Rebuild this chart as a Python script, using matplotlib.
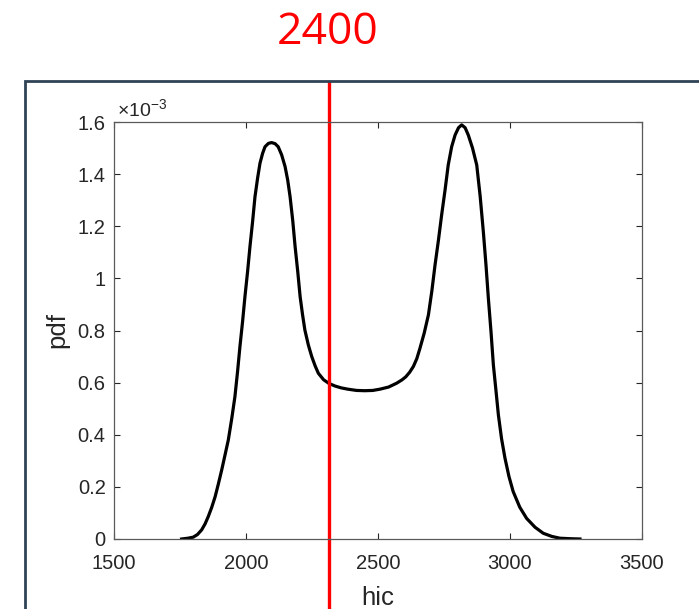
import matplotlib
matplotlib.use("Agg")
import matplotlib.pyplot as plt
from matplotlib.patches import Rectangle

plt.rcParams['font.family'] = ['Liberation Sans', 'DejaVu Sans']
plt.rcParams['mathtext.fontset'] = 'custom'
plt.rcParams['mathtext.rm'] = 'Liberation Sans'

# values (pdf in units of 1e-3)
hic = [1756, 1780, 1800, 1816, 1832, 1845, 1857, 1870, 1883, 1895, 1908, 1920, 1933,
       1946, 1958, 1968, 1977, 1987, 1996, 2006, 2015, 2025, 2034, 2044, 2053, 2063,
       2072, 2085, 2097, 2110, 2122, 2135, 2148, 2158, 2167, 2177, 2186, 2196, 2205,
       2214, 2223, 2236, 2249, 2262, 2274, 2294, 2314, 2337, 2360, 2385, 2419, 2450,
       2480, 2508, 2540, 2571, 2590, 2605, 2620, 2634, 2647, 2659, 2675, 2691, 2704,
       2716, 2729, 2741, 2754, 2766, 2779, 2792, 2805, 2817, 2830, 2842, 2858, 2874,
       2887, 2899, 2909, 2918, 2928, 2937, 2947, 2956, 2968, 2981, 2996, 3012, 3037,
       3063, 3095, 3126, 3158, 3189, 3230, 3265]
pdf = [0.000, 0.003, 0.007, 0.017, 0.035, 0.058, 0.086, 0.121, 0.162, 0.210, 0.265, 0.320, 0.380,
       0.462, 0.546, 0.642, 0.738, 0.834, 0.930, 1.026, 1.122, 1.218, 1.313, 1.385, 1.442, 1.480,
       1.505, 1.518, 1.521, 1.517, 1.505, 1.474, 1.429, 1.377, 1.313, 1.222, 1.122, 1.026, 0.930,
       0.862, 0.802, 0.745, 0.700, 0.664, 0.636, 0.611, 0.597, 0.587, 0.580, 0.575, 0.570, 0.569,
       0.570, 0.575, 0.583, 0.598, 0.610, 0.622, 0.640, 0.662, 0.692, 0.732, 0.790, 0.860, 0.952,
       1.051, 1.147, 1.243, 1.339, 1.435, 1.505, 1.550, 1.578, 1.589, 1.578, 1.550, 1.500, 1.435,
       1.315, 1.179, 1.052, 0.924, 0.796, 0.668, 0.568, 0.476, 0.385, 0.310, 0.240, 0.182, 0.122,
       0.079, 0.045, 0.022, 0.010, 0.003, 0.001, 0.000]
cut = 2315
title = "2400"

xticks = [1500, 2000, 2500, 3000, 3500]
yticks = [0, 0.2, 0.4, 0.6, 0.8, 1, 1.2, 1.4, 1.6]

fig = plt.figure(figsize=(6.99, 6.09), dpi=100)
ax = fig.add_axes([114/699, 70/609, 528/699, 417/609])

# slide frame around the plot
fig.patches.append(Rectangle((25/699, -0.05), 1.0, 0.05 + (1 - 81/609), transform=fig.transFigure,
                             fill=False, edgecolor='#2f4356', linewidth=2))

ax.plot(hic, pdf, color='black', linewidth=2.3, solid_joinstyle='round')
ax.axvline(cut, ymin=-0.168, ymax=1.096, color='red', linewidth=2.4, clip_on=False)

ax.set_xlim(1500, 3500)
ax.set_ylim(0, 1.6)
ax.set_xticks(xticks)
ax.set_yticks(yticks)
ax.set_yticklabels(['%g' % v for v in yticks])
ax.tick_params(direction='in', top=True, right=True, length=4, width=0.8,
               labelsize=14.5, labelcolor='#262626', color='#262626')
ax.tick_params(axis='x', pad=11)
ax.tick_params(axis='y', pad=6)
for s in ax.spines.values():
    s.set_color('#5a5a5a')
    s.set_linewidth(0.9)

ax.text(0.005, 1.003, r'$\times10^{-3}$', transform=ax.transAxes, fontsize=14,
        color='#262626', ha='left', va='bottom')
ax.set_xlabel('hic', fontsize=18.5, color='#262626', labelpad=9)
ax.set_ylabel('pdf', fontsize=18.5, color='#262626', labelpad=6)

fig.text(328/699, 1 - 33/609, title, color='red', fontsize=32, ha='center', va='center',
         family=['Open Sans', 'DejaVu Sans'])

fig.savefig('out.png', dpi=100)
